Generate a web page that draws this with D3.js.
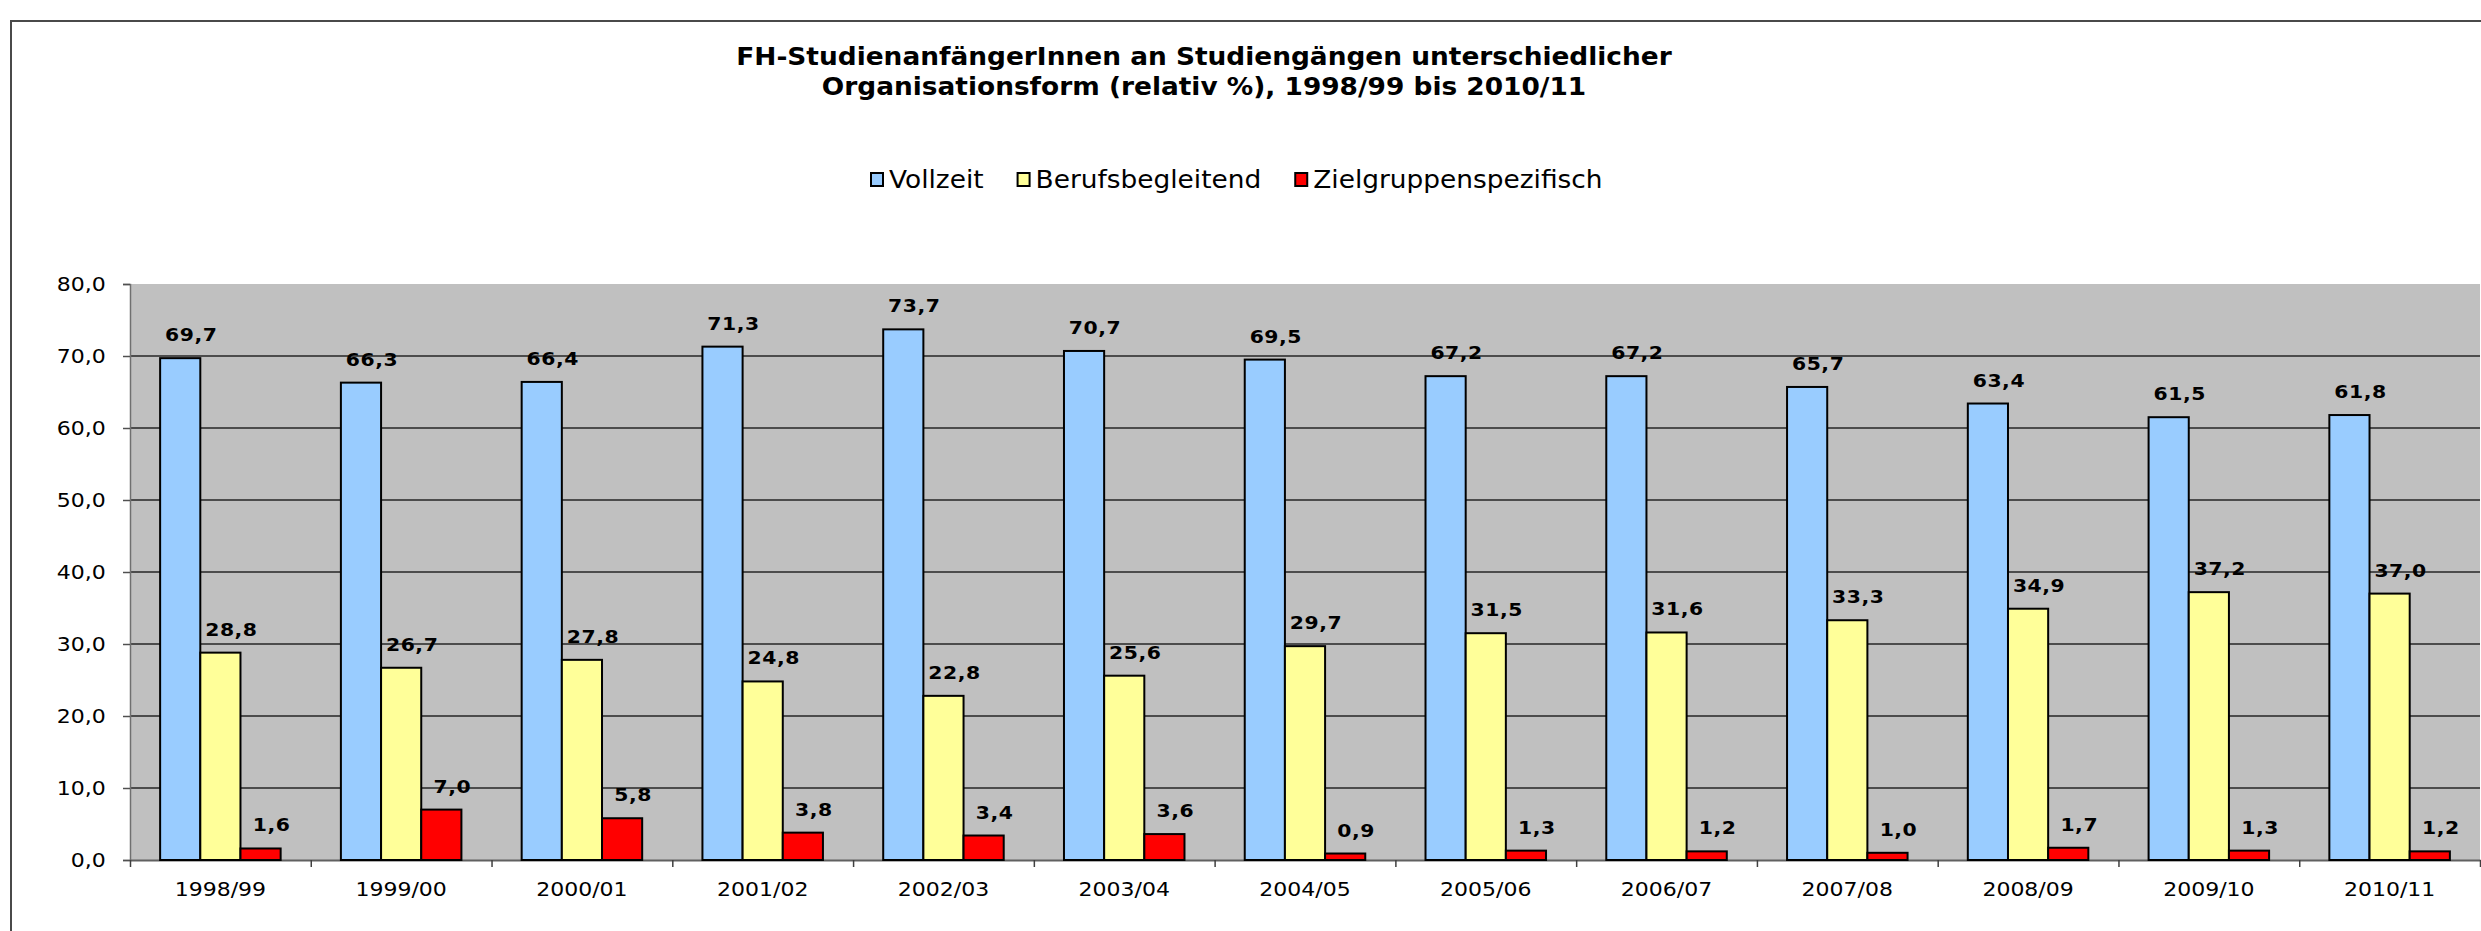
<!DOCTYPE html>
<html>
<head>
<meta charset="utf-8">
<script src="https://cdn.jsdelivr.net/npm/d3@7/dist/d3.min.js"></script>
<style>
  body { margin: 0; background: #fff; }
  svg { display: block; }
  text { font-family: "DejaVu Sans", Verdana, sans-serif; fill: #000; }
</style>
</head>
<body>
<div id="chart"></div>
<script>
// data
var years = ['1998/99', '1999/00', '2000/01', '2001/02', '2002/03', '2003/04', '2004/05',
             '2005/06', '2006/07', '2007/08', '2008/09', '2009/10', '2010/11'];
var vollzeit = [69.7, 66.3, 66.4, 71.3, 73.7, 70.7, 69.5, 67.2, 67.2, 65.7, 63.4, 61.5, 61.8];
var berufsbegleitend = [28.8, 26.7, 27.8, 24.8, 22.8, 25.6, 29.7, 31.5, 31.6, 33.3, 34.9, 37.2, 37.0];
var zielgruppenspezifisch = [1.6, 7.0, 5.8, 3.8, 3.4, 3.6, 0.9, 1.3, 1.2, 1.0, 1.7, 1.3, 1.2];
var seriesNames = ['Vollzeit', 'Berufsbegleitend', 'Zielgruppenspezifisch'];
var yTicks = [0, 10, 20, 30, 40, 50, 60, 70, 80];
var titleLines = ['FH-StudienanfängerInnen an Studiengängen unterschiedlicher',
                  'Organisationsform (relativ %), 1998/99 bis 2010/11'];

var colors = ['#99CCFF', '#FFFF99', '#FF0000'];
var seriesValues = [vollzeit, berufsbegleitend, zielgruppenspezifisch];

var rows = years.map(function(y, i) {
    return {
        year: y,
        values: seriesNames.map(function(s, j) {
            return { key: s, idx: j, value: seriesValues[j][i] };
        })
    };
});

var width = 2481, height = 931;
var margin = { top: 284, right: 1, bottom: 71, left: 130 };
var plotW = width - margin.left - margin.right,
    plotH = height - margin.top - margin.bottom;
var sx = 1.1; // the original picture is stretched horizontally, text too

var locale = d3.formatLocale({ decimal: ',', thousands: '.', grouping: [3], currency: ['', '€'] });
var fmt = locale.format('.1f');

var svg = d3.select('#chart').append('svg')
    .attr('width', width)
    .attr('height', height);

// chart area border (runs off the right and bottom edge)
svg.append('rect')
    .attr('x', 11).attr('y', 21)
    .attr('width', width + 20).attr('height', height + 20)
    .attr('fill', '#fff')
    .attr('stroke', '#4a4a4a')
    .attr('stroke-width', 2);

// title
svg.selectAll('text.title')
    .data(titleLines).enter().append('text')
    .attr('class', 'title')
    .attr('text-anchor', 'middle')
    .attr('transform', function(d, i) { return 'translate(1204,' + (65 + i * 30) + ') scale(' + sx + ',1)'; })
    .style('font-size', '24px')
    .style('font-weight', 'bold')
    .text(function(d) { return d; });

// legend
var legend = svg.append('g').attr('transform', 'translate(871,173)');
var lx = 0;
seriesNames.forEach(function(name, i) {
    var item = legend.append('g').attr('transform', 'translate(' + lx + ',0)');
    item.append('rect')
        .attr('width', 12).attr('height', 13)
        .attr('fill', colors[i])
        .attr('stroke', '#000')
        .attr('stroke-width', 2);
    var t = item.append('text')
        .attr('transform', 'translate(18,15) scale(' + sx + ',1)')
        .style('font-size', '24px')
        .text(name);
    lx += 18 + t.node().getComputedTextLength() * sx + 34;
});

var g = svg.append('g')
    .attr('transform', 'translate(' + margin.left + ',' + margin.top + ')');

var x0 = d3.scaleBand()
    .domain(years)
    .range([0, plotW])
    .paddingInner(1 / 3)
    .paddingOuter(1 / 6);

var x1 = d3.scaleBand()
    .domain(seriesNames)
    .range([0, x0.bandwidth()]);

var y = d3.scaleLinear()
    .domain([0, 80])
    .range([plotH, 0]);

g.append('rect')
    .attr('width', plotW).attr('height', plotH)
    .attr('fill', '#C0C0C0');

// gridlines
g.append('g')
    .selectAll('line')
    .data(yTicks.filter(function(t) { return t > 0 && t < 80; }))
    .enter().append('line')
    .attr('x1', 0).attr('x2', plotW)
    .attr('y1', function(d) { return y(d); })
    .attr('y2', function(d) { return y(d); })
    .attr('stroke', '#262626')
    .attr('stroke-width', 1.5);

// y axis
var yAxis = g.append('g')
    .call(d3.axisLeft(y).tickValues(yTicks).tickFormat(fmt).tickSize(7).tickPadding(15));
yAxis.select('.domain').attr('stroke', '#707070').attr('stroke-width', 1.5);
yAxis.selectAll('.tick line').attr('stroke', '#505050').attr('stroke-width', 1.5);
yAxis.selectAll('.tick text')
    .style('font-size', '20px')
    .style('font-family', '"DejaVu Sans", Verdana, sans-serif')
    .attr('fill', '#000')
    .attr('transform', 'scale(' + sx + ',1)');

// x axis: tick marks at category boundaries
var xEdge = d3.scaleLinear().domain([0, years.length]).range([0, plotW]);
var xTicks = g.append('g')
    .attr('transform', 'translate(0,' + plotH + ')')
    .call(d3.axisBottom(xEdge).ticks(years.length).tickFormat('').tickSizeInner(7).tickSizeOuter(0));
xTicks.select('.domain').attr('stroke', '#606060').attr('stroke-width', 2);
xTicks.selectAll('.tick line').attr('stroke', '#404040').attr('stroke-width', 1.5);

// x axis labels
var xAxis = g.append('g')
    .attr('transform', 'translate(0,' + plotH + ')')
    .call(d3.axisBottom(x0).tickSize(0).tickPadding(22));
xAxis.select('.domain').remove();
xAxis.selectAll('.tick text')
    .style('font-size', '20px')
    .style('font-family', '"DejaVu Sans", Verdana, sans-serif')
    .attr('fill', '#000')
    .attr('transform', 'scale(' + sx + ',1)');

// bars
var groups = g.selectAll('g.cat')
    .data(rows).enter().append('g')
    .attr('class', 'cat')
    .attr('transform', function(d) { return 'translate(' + x0(d.year) + ',0)'; });

groups.selectAll('rect')
    .data(function(d) { return d.values; })
    .enter().append('rect')
    .attr('x', function(d) { return x1(d.key); })
    .attr('width', x1.bandwidth())
    .attr('y', function(d) { return y(d.value); })
    .attr('height', function(d) { return plotH - y(d.value); })
    .attr('fill', function(d) { return colors[d.idx]; })
    .attr('stroke', '#000')
    .attr('stroke-width', 2);

// value labels
groups.selectAll('text.val')
    .data(function(d) { return d.values; })
    .enter().append('text')
    .attr('class', 'val')
    .attr('text-anchor', 'middle')
    .attr('transform', function(d) {
        return 'translate(' + (x1(d.key) + x1.bandwidth() / 2 + 11) + ',' + (y(d.value) - 17) + ') scale(' + sx + ',1)';
    })
    .style('font-size', '18.5px')
    .style('font-weight', 'bold')
    .style('letter-spacing', '0.5px')
    .text(function(d) { return fmt(d.value); });
</script>
</body>
</html>
